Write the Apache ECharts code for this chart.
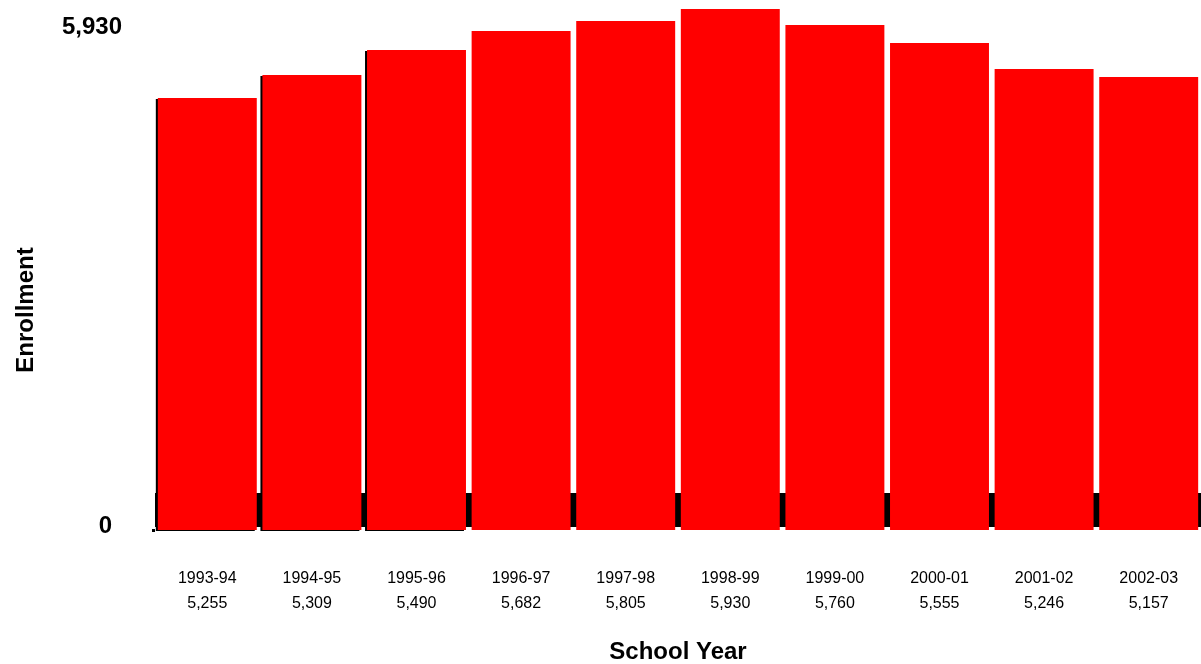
<!DOCTYPE html>
<html>
<head>
<meta charset="utf-8">
<script src="https://cdn.jsdelivr.net/npm/echarts@6/dist/echarts.min.js"></script>
<style>
  html, body { margin: 0; padding: 0; background: #fff; }
  #chart { width: 1201px; height: 664px; }
</style>
</head>
<body>
<div id="chart"></div>
<script>
// school years and the enrollment printed under each one
var schoolYears = ['1993-94', '1994-95', '1995-96', '1996-97', '1997-98', '1998-99', '1999-00', '2000-01', '2001-02', '2002-03'];
var enrollmentText = ['5,255', '5,309', '5,490', '5,682', '5,805', '5,930', '5,760', '5,555', '5,246', '5,157'];
var barHeights = [5129, 5402, 5699, 5924, 6043, 6185, 5995, 5782, 5473, 5378];
// value axis labels
var yTicks = [0, 5930];
var yMax = 6185;
// dark floor band behind the bars (axis units)
var floorBand = [36, 439];

var FONT = '"Liberation Sans", Arial, sans-serif';

var chart = echarts.init(document.getElementById('chart'));

var barData = barHeights.map(function (v, i) {
  var item = { value: v };
  if (i < 3) {
    // the first few bars show a thin dark edge on the left
    item.itemStyle = { shadowColor: '#000', shadowOffsetX: -2, shadowOffsetY: 1, shadowBlur: 0 };
  }
  return item;
});

chart.setOption({
  animation: false,
  backgroundColor: '#fff',
  grid: {
    left: 155,
    width: 1046,
    top: 9,
    bottom: 134,
    outerBoundsMode: 'none',
    containLabel: false
  },
  xAxis: {
    type: 'category',
    data: schoolYears,
    axisLine: { show: false },
    axisTick: { show: false },
    axisLabel: {
      interval: 0,
      margin: 36,
      fontFamily: FONT,
      fontSize: 16,
      lineHeight: 25,
      color: '#000',
      formatter: function (v, i) {
        return v + '\n' + enrollmentText[i];
      }
    },
    name: 'School Year',
    nameLocation: 'middle',
    nameGap: 110,
    nameTextStyle: { fontFamily: FONT, fontSize: 24, fontWeight: 'bold', color: '#000' }
  },
  yAxis: {
    type: 'value',
    min: 0,
    max: yMax,
    splitLine: { show: false },
    axisLine: { show: false },
    axisTick: {
      show: true,
      customValues: [0],
      length: 3,
      lineStyle: { color: '#000', width: 3 }
    },
    axisLabel: {
      customValues: yTicks,
      margin: 33,
      fontFamily: FONT,
      fontSize: 24,
      fontWeight: 'bold',
      color: '#000',
      padding: [0, 0, 7, 0],
      formatter: function (v) {
        return v === 0 ? '{zero|0}' : '{top|' + echarts.format.addCommas(v) + '}';
      },
      rich: {
        zero: { fontFamily: FONT, fontSize: 24, fontWeight: 'bold', color: '#000', padding: [0, 10, 0, 0] },
        top: { fontFamily: FONT, fontSize: 24, fontWeight: 'bold', color: '#000' }
      }
    },
    name: 'Enrollment',
    nameLocation: 'middle',
    nameGap: 117,
    nameTextStyle: { fontFamily: FONT, fontSize: 24, fontWeight: 'bold', color: '#000', padding: [0, 81, 0, 0] }
  },
  series: [{
    type: 'bar',
    data: barData,
    barCategoryGap: '5.4%',
    itemStyle: { color: '#ff0000' },
    clip: false,
    markArea: {
      silent: true,
      itemStyle: { color: '#000' },
      data: [[
        { xAxis: schoolYears[0], yAxis: floorBand[0] },
        { xAxis: schoolYears[schoolYears.length - 1], yAxis: floorBand[1] }
      ]]
    }
  }]
});
</script>
</body>
</html>
